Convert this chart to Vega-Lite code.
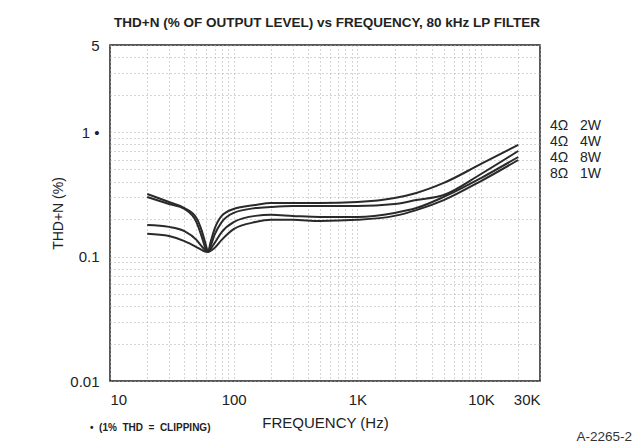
{
  "$schema": "https://vega.github.io/schema/vega-lite/v6.json",
  "width": 430,
  "height": 336,
  "autosize": {"type": "none"},
  "padding": {"left": 110, "top": 45, "right": 95, "bottom": 67},
  "background": "white",
  "config": {
    "view": {"stroke": "#222", "strokeWidth": 1.5},
    "font": "Liberation Sans"
  },
  "title": {
    "text": "THD+N (% OF OUTPUT LEVEL) vs FREQUENCY, 80 kHz LP FILTER",
    "fontSize": 13.5,
    "fontWeight": "bold",
    "color": "#222",
    "offset": 9,
    "anchor": "middle",
    "dx": 2
  },
  "layer": [
    {
      "data": {
        "values": [
          {"freq": 20, "thd": 0.318, "series": "4Ω  2W"},
          {"freq": 30, "thd": 0.274, "series": "4Ω  2W"},
          {"freq": 40, "thd": 0.245, "series": "4Ω  2W"},
          {"freq": 50, "thd": 0.204, "series": "4Ω  2W"},
          {"freq": 55, "thd": 0.163, "series": "4Ω  2W"},
          {"freq": 60, "thd": 0.121, "series": "4Ω  2W"},
          {"freq": 62, "thd": 0.109, "series": "4Ω  2W"},
          {"freq": 65, "thd": 0.130, "series": "4Ω  2W"},
          {"freq": 70, "thd": 0.166, "series": "4Ω  2W"},
          {"freq": 80, "thd": 0.212, "series": "4Ω  2W"},
          {"freq": 100, "thd": 0.241, "series": "4Ω  2W"},
          {"freq": 150, "thd": 0.259, "series": "4Ω  2W"},
          {"freq": 200, "thd": 0.269, "series": "4Ω  2W"},
          {"freq": 300, "thd": 0.269, "series": "4Ω  2W"},
          {"freq": 500, "thd": 0.269, "series": "4Ω  2W"},
          {"freq": 1000, "thd": 0.274, "series": "4Ω  2W"},
          {"freq": 2000, "thd": 0.295, "series": "4Ω  2W"},
          {"freq": 3000, "thd": 0.324, "series": "4Ω  2W"},
          {"freq": 5000, "thd": 0.390, "series": "4Ω  2W"},
          {"freq": 10000, "thd": 0.554, "series": "4Ω  2W"},
          {"freq": 20000, "thd": 0.787, "series": "4Ω  2W"},

          {"freq": 20, "thd": 0.301, "series": "4Ω  4W"},
          {"freq": 30, "thd": 0.264, "series": "4Ω  4W"},
          {"freq": 40, "thd": 0.241, "series": "4Ω  4W"},
          {"freq": 50, "thd": 0.189, "series": "4Ω  4W"},
          {"freq": 55, "thd": 0.146, "series": "4Ω  4W"},
          {"freq": 60, "thd": 0.113, "series": "4Ω  4W"},
          {"freq": 62, "thd": 0.109, "series": "4Ω  4W"},
          {"freq": 65, "thd": 0.121, "series": "4Ω  4W"},
          {"freq": 70, "thd": 0.149, "series": "4Ω  4W"},
          {"freq": 80, "thd": 0.189, "series": "4Ω  4W"},
          {"freq": 100, "thd": 0.224, "series": "4Ω  4W"},
          {"freq": 150, "thd": 0.245, "series": "4Ω  4W"},
          {"freq": 200, "thd": 0.250, "series": "4Ω  4W"},
          {"freq": 300, "thd": 0.254, "series": "4Ω  4W"},
          {"freq": 500, "thd": 0.254, "series": "4Ω  4W"},
          {"freq": 1000, "thd": 0.254, "series": "4Ω  4W"},
          {"freq": 2000, "thd": 0.264, "series": "4Ω  4W"},
          {"freq": 3000, "thd": 0.284, "series": "4Ω  4W"},
          {"freq": 5000, "thd": 0.312, "series": "4Ω  4W"},
          {"freq": 10000, "thd": 0.460, "series": "4Ω  4W"},
          {"freq": 20000, "thd": 0.704, "series": "4Ω  4W"},

          {"freq": 20, "thd": 0.179, "series": "4Ω  8W"},
          {"freq": 30, "thd": 0.173, "series": "4Ω  8W"},
          {"freq": 40, "thd": 0.160, "series": "4Ω  8W"},
          {"freq": 50, "thd": 0.136, "series": "4Ω  8W"},
          {"freq": 55, "thd": 0.121, "series": "4Ω  8W"},
          {"freq": 60, "thd": 0.111, "series": "4Ω  8W"},
          {"freq": 62, "thd": 0.109, "series": "4Ω  8W"},
          {"freq": 65, "thd": 0.115, "series": "4Ω  8W"},
          {"freq": 70, "thd": 0.128, "series": "4Ω  8W"},
          {"freq": 80, "thd": 0.157, "series": "4Ω  8W"},
          {"freq": 100, "thd": 0.189, "series": "4Ω  8W"},
          {"freq": 150, "thd": 0.212, "series": "4Ω  8W"},
          {"freq": 200, "thd": 0.216, "series": "4Ω  8W"},
          {"freq": 300, "thd": 0.212, "series": "4Ω  8W"},
          {"freq": 500, "thd": 0.208, "series": "4Ω  8W"},
          {"freq": 1000, "thd": 0.208, "series": "4Ω  8W"},
          {"freq": 2000, "thd": 0.224, "series": "4Ω  8W"},
          {"freq": 3000, "thd": 0.245, "series": "4Ω  8W"},
          {"freq": 5000, "thd": 0.301, "series": "4Ω  8W"},
          {"freq": 10000, "thd": 0.427, "series": "4Ω  8W"},
          {"freq": 20000, "thd": 0.630, "series": "4Ω  8W"},

          {"freq": 20, "thd": 0.152, "series": "8Ω  1W"},
          {"freq": 30, "thd": 0.146, "series": "8Ω  1W"},
          {"freq": 40, "thd": 0.133, "series": "8Ω  1W"},
          {"freq": 50, "thd": 0.119, "series": "8Ω  1W"},
          {"freq": 55, "thd": 0.113, "series": "8Ω  1W"},
          {"freq": 60, "thd": 0.109, "series": "8Ω  1W"},
          {"freq": 62, "thd": 0.109, "series": "8Ω  1W"},
          {"freq": 65, "thd": 0.111, "series": "8Ω  1W"},
          {"freq": 70, "thd": 0.117, "series": "8Ω  1W"},
          {"freq": 80, "thd": 0.136, "series": "8Ω  1W"},
          {"freq": 100, "thd": 0.166, "series": "8Ω  1W"},
          {"freq": 150, "thd": 0.189, "series": "8Ω  1W"},
          {"freq": 200, "thd": 0.197, "series": "8Ω  1W"},
          {"freq": 300, "thd": 0.197, "series": "8Ω  1W"},
          {"freq": 500, "thd": 0.193, "series": "8Ω  1W"},
          {"freq": 1000, "thd": 0.197, "series": "8Ω  1W"},
          {"freq": 2000, "thd": 0.212, "series": "8Ω  1W"},
          {"freq": 3000, "thd": 0.236, "series": "8Ω  1W"},
          {"freq": 5000, "thd": 0.284, "series": "8Ω  1W"},
          {"freq": 10000, "thd": 0.404, "series": "8Ω  1W"},
          {"freq": 20000, "thd": 0.596, "series": "8Ω  1W"}
        ]
      },
      "mark": {"type": "line", "interpolate": "monotone", "strokeWidth": 2},
      "encoding": {
        "x": {
          "field": "freq",
          "type": "quantitative",
          "scale": {"type": "log", "domain": [10, 30000], "nice": false},
          "axis": {
            "title": "FREQUENCY (Hz)",
            "values": [10, 20, 30, 40, 50, 60, 70, 80, 90, 100, 200, 300, 400, 500, 600, 700, 800, 900, 1000, 2000, 3000, 4000, 5000, 6000, 7000, 8000, 9000, 10000, 20000, 30000],
            "labelExpr": "indexof([10, 100, 1000, 10000, 30000], datum.value) >= 0 ? (datum.value >= 1000 ? (datum.value / 1000) + 'K' : datum.value + '') : ''",
            "labelOverlap": false,
            "labelFontSize": 15,
            "labelColor": "#222",
            "labelPadding": 11,
            "ticks": false,
            "domain": false,
            "grid": true,
            "gridColor": "#aaa",
            "gridDash": [1, 3],
            "gridWidth": 1,
            "titleFontSize": 15,
            "titleFontWeight": "normal",
            "titleColor": "#222",
            "titlePadding": 8
          }
        },
        "y": {
          "field": "thd",
          "type": "quantitative",
          "scale": {"type": "log", "domain": [0.01, 5], "nice": false},
          "axis": {
            "title": "THD+N (%)",
            "values": [0.01, 0.02, 0.03, 0.04, 0.05, 0.06, 0.07, 0.08, 0.09, 0.1, 0.2, 0.3, 0.4, 0.5, 0.6, 0.7, 0.8, 0.9, 1, 2, 3, 4, 5],
            "labelExpr": "datum.value == 5 ? '5' : datum.value == 1 ? '1 •' : datum.value == 0.1 ? '0.1' : datum.value == 0.01 ? '0.01' : ''",
            "labelOverlap": false,
            "labelFontSize": 15,
            "labelColor": "#222",
            "labelPadding": 11,
            "ticks": false,
            "domain": false,
            "grid": true,
            "gridColor": "#aaa",
            "gridDash": [1, 3],
            "gridWidth": 1,
            "titleFontSize": 14,
            "titleFontWeight": "normal",
            "titleColor": "#222",
            "titleX": -52,
            "titleY": 168,
            "titleAlign": "center",
            "titleBaseline": "middle"
          }
        },
        "color": {
          "field": "series",
          "type": "nominal",
          "scale": {"domain": ["4Ω  2W", "4Ω  4W", "4Ω  8W", "8Ω  1W"], "range": ["#2a2a2a", "#2a2a2a", "#2a2a2a", "#2a2a2a"]},
          "legend": {
            "title": null,
            "orient": "none",
            "legendX": 426,
            "legendY": 74,
            "symbolSize": 0,
            "symbolStrokeWidth": 0,
            "symbolOpacity": 0,
            "labelOffset": 0,
            "labelFontSize": 14,
            "labelColor": "#222",
            "labelExpr": "replace(datum.label, '  ', '\u00a0\u00a0\u00a0')",
            "rowPadding": 2,
            "padding": 0
          }
        }
      }
    },
    {
      "data": {"values": [{"note": "•\u00a0\u00a0(1%\u00a0\u00a0THD\u00a0\u00a0=\u00a0\u00a0CLIPPING)"}]},
      "mark": {"type": "text", "align": "left", "baseline": "middle", "dx": -20, "dy": 47, "fontSize": 10, "fontWeight": "bold", "color": "#222"},
      "encoding": {
        "x": {"datum": 10, "type": "quantitative"},
        "y": {"datum": 0.01, "type": "quantitative"},
        "text": {"field": "note"}
      }
    },
    {
      "data": {"values": [{"note": "A-2265-2"}]},
      "mark": {"type": "text", "align": "right", "baseline": "middle", "dx": 92, "dy": 56, "fontSize": 13.5, "font": "Liberation Sans", "color": "#333"},
      "encoding": {
        "x": {"datum": 30000, "type": "quantitative"},
        "y": {"datum": 0.01, "type": "quantitative"},
        "text": {"field": "note"}
      }
    }
  ]
}
